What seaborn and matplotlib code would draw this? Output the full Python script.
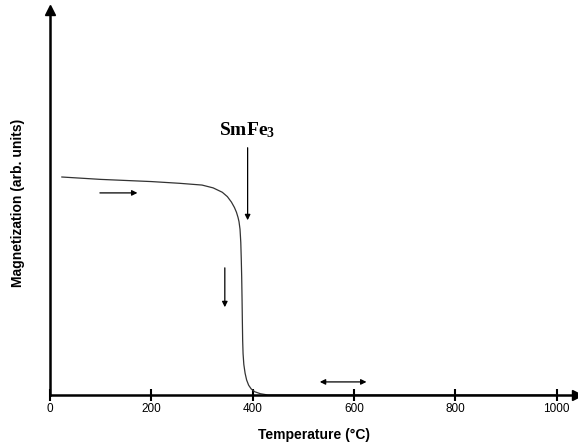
import numpy as np
import pandas as pd
import matplotlib
matplotlib.use("Agg")
import matplotlib.pyplot as plt
import seaborn as sns

# Data
temperature = [23, 100, 200, 256, 300, 322, 340, 350, 358, 364, 368, 371, 373,
               375, 376.5, 377.5, 378.3, 379, 379.6, 380.2, 381, 382.5, 385,
               388, 392, 397, 404, 415, 430, 600, 800, 1000]
magnetization = [1.000, 0.989, 0.979, 0.971, 0.963, 0.950, 0.930, 0.910, 0.885,
                 0.860, 0.838, 0.815, 0.795, 0.760, 0.700, 0.620, 0.540, 0.440,
                 0.340, 0.250, 0.190, 0.140, 0.100, 0.069, 0.045, 0.028, 0.015,
                 0.006, 0.0, 0.0, 0.0, 0.0]
x_ticks = [0, 200, 400, 600, 800, 1000]
x_tick_labels = ["0", "200", "400", "600", "800", "1000"]

sns.set_style("white")
plt.rcParams["font.family"] = ["Liberation Sans", "DejaVu Sans"]
plt.rcParams["text.color"] = "black"
plt.rcParams["axes.labelcolor"] = "black"
plt.rcParams["xtick.color"] = "black"
plt.rcParams["mathtext.fontset"] = "custom"
plt.rcParams["mathtext.bf"] = "Liberation Serif:bold"
plt.rcParams["mathtext.rm"] = "Liberation Serif:bold"

df = pd.DataFrame({"T": temperature, "M": magnetization})

fig = plt.figure(figsize=(5.78, 4.48), dpi=100)
ax = fig.add_axes([50 / 578, 53 / 448, 527 / 578, 385 / 448])

sns.lineplot(data=df, x="T", y="M", ax=ax, color="#333333", linewidth=0.9)

ax.set_xlim(0, 1040)
ax.set_ylim(0, 1.766)

for side in ["top", "right"]:
    ax.spines[side].set_visible(False)
for side in ["left", "bottom"]:
    ax.spines[side].set_linewidth(1.8)
    ax.spines[side].set_color("black")

# axis arrow heads
ax.plot(1, 0, ">k", transform=ax.transAxes, clip_on=False, markersize=7)
ax.plot(0, 1, "^k", transform=ax.transAxes, clip_on=False, markersize=7)

ax.set_xticks(x_ticks)
ax.set_xticklabels(x_tick_labels, fontsize=8.5, color="black")
ax.tick_params(axis="x", bottom=True, direction="inout", length=8, width=1.5,
               color="black", labelcolor="black", pad=2)
ax.set_yticks([])

ax.set_xlabel("Temperature (°C)", fontsize=10, fontweight="bold", labelpad=9,
              color="black")
ax.set_ylabel("Magnetization (arb. units)", fontsize=10, fontweight="bold",
              labelpad=18, color="black")

arrow_kw = dict(arrowstyle="-|>", color="black", lw=0.9, mutation_scale=8)
# heating direction arrow
ax.annotate("", xy=(178, 0.927), xytext=(93, 0.927), arrowprops=arrow_kw)
# cooling down arrow
ax.annotate("", xy=(345, 0.390), xytext=(345, 0.596), arrowprops=arrow_kw)
# SmFe3 Curie point arrow
ax.annotate("", xy=(390, 0.789), xytext=(390, 1.147), arrowprops=arrow_kw)
ax.text(388, 1.216, r"$\mathbf{SmFe_3}$", fontsize=14, color="black",
        ha="center", va="center")
# double-headed arrow
ax.annotate("", xy=(630, 0.06), xytext=(527, 0.06),
            arrowprops=dict(arrowstyle="<|-|>", color="black", lw=0.9, mutation_scale=8))

fig.savefig("out.png", dpi=100)
